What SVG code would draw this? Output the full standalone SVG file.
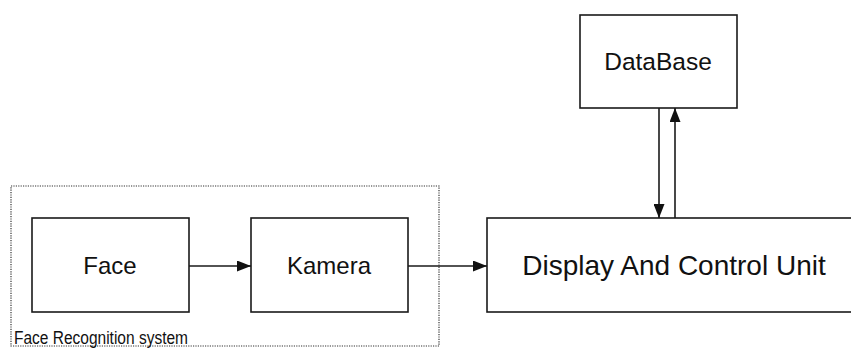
<svg xmlns="http://www.w3.org/2000/svg" width="851" height="349" viewBox="0 0 851 349">
  <style>
    .box { fill: #ffffff; stroke: #1a1a1a; stroke-width: 1.6; }
    .lbl { font-family: "Liberation Sans", Arial, sans-serif; fill: #111111; text-anchor: middle; }
    .wire { stroke: #1a1a1a; stroke-width: 1.6; fill: none; marker-end: url(#head); }
    .frame { fill: none; stroke: #333333; stroke-width: 1.2; stroke-dasharray: 1.2 1.2; }
  </style>
  <defs>
    <marker id="head" viewBox="0 0 14 11" refX="14" refY="5.5" markerWidth="14" markerHeight="11" markerUnits="userSpaceOnUse" orient="auto">
      <path d="M0,0 L14,5.5 L0,11 Z" fill="#111111"/>
    </marker>
  </defs>
  <rect width="851" height="349" fill="#ffffff"/>

  <!-- system boundary -->
  <g id="face-recognition-system">
    <rect class="frame" x="11" y="186" width="428" height="160"/>
    <text x="14" y="344" font-family="'Liberation Sans', Arial, sans-serif" font-size="17.5" fill="#111111" textLength="174" lengthAdjust="spacingAndGlyphs">Face Recognition system</text>
  </g>

  <g id="face">
    <rect class="box" x="32" y="218" width="157" height="94"/>
    <text class="lbl" x="110" y="274" font-size="24">Face</text>
  </g>

  <g id="kamera">
    <rect class="box" x="251" y="218" width="157" height="94"/>
    <text class="lbl" x="329" y="274" font-size="24">Kamera</text>
  </g>

  <g id="display-control-unit">
    <rect class="box" x="487" y="218" width="380" height="94"/>
    <text class="lbl" x="674" y="275" font-size="28">Display And Control Unit</text>
  </g>

  <g id="database">
    <rect class="box" x="580" y="15" width="157" height="93"/>
    <text class="lbl" x="658" y="70" font-size="24.5">DataBase</text>
  </g>

  <g id="connectors">
    <line class="wire" x1="189" y1="266" x2="251" y2="266"/>
    <line class="wire" x1="408" y1="266" x2="487" y2="266"/>
    <line class="wire" x1="659" y1="108" x2="659" y2="218"/>
    <line class="wire" x1="675" y1="218" x2="675" y2="108"/>
  </g>
</svg>
